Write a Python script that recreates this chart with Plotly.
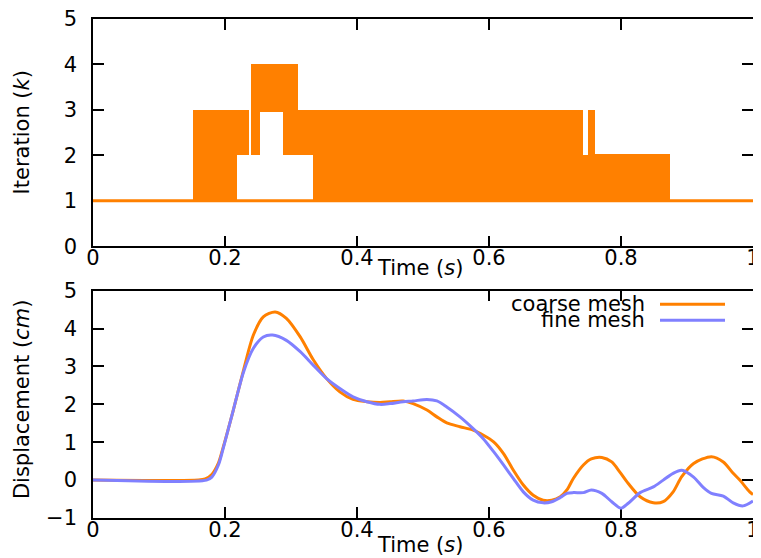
import plotly.graph_objects as go
from plotly.subplots import make_subplots

# ---------------- Top panel: iteration count bands ----------------
# Each band: time interval [start, end] over which k oscillates between low and high
band_t_start = [0.1515, 0.218, 0.239, 0.253, 0.288, 0.311, 0.333, 0.742, 0.750, 0.761]
band_t_end   = [0.218, 0.236, 0.253, 0.288, 0.311, 0.333, 0.742, 0.750, 0.761, 0.874]
band_low     = [1, 2, 2, 2.95, 2, 2, 1, 1, 1, 1]
band_high    = [3, 3, 4, 4, 4, 3, 3, 2, 3, 2.03]
baseline_t = [0.0, 1.0]
baseline_k = [1, 1]

# ---------------- Bottom panel: displacement ----------------
time_coarse = [0, 0.16, 0.17, 0.18, 0.19, 0.197, 0.2126, 0.228, 0.243, 0.258, 0.276, 0.293,
               0.314, 0.334, 0.354, 0.374, 0.394, 0.415, 0.435, 0.45, 0.47, 0.485, 0.506,
               0.521, 0.536, 0.556, 0.576, 0.591, 0.607, 0.622, 0.637, 0.652, 0.667, 0.682,
               0.695, 0.708, 0.718, 0.728, 0.743, 0.755, 0.771, 0.786, 0.798, 0.811, 0.829,
               0.849, 0.864, 0.879, 0.892, 0.91, 0.937, 0.955, 0.97, 0.98, 0.995, 1.0]
disp_coarse = [0, 0, 0.03, 0.15, 0.45, 0.85, 1.85, 2.9, 3.83, 4.31, 4.44, 4.27,
               3.78, 3.17, 2.68, 2.33, 2.13, 2.07, 2.05, 2.07, 2.09, 2.02, 1.85,
               1.67, 1.51, 1.41, 1.32, 1.19, 1.01, 0.70, 0.26, -0.13, -0.40, -0.53,
               -0.53, -0.44, -0.26, 0.05, 0.40, 0.56, 0.60, 0.48, 0.22, -0.09, -0.44,
               -0.60, -0.57, -0.31, 0.09, 0.44, 0.62, 0.48, 0.18, 0.0, -0.31, -0.38]

time_fine = [0, 0.172, 0.18, 0.19, 0.197, 0.2126, 0.228, 0.243, 0.258, 0.272, 0.293, 0.314,
             0.334, 0.354, 0.374, 0.394, 0.415, 0.435, 0.45, 0.47, 0.485, 0.506, 0.521,
             0.536, 0.556, 0.576, 0.591, 0.607, 0.622, 0.637, 0.652, 0.667, 0.682, 0.695,
             0.708, 0.718, 0.728, 0.743, 0.755, 0.771, 0.786, 0.80, 0.811, 0.829, 0.849,
             0.864, 0.879, 0.892, 0.91, 0.925, 0.937, 0.955, 0.97, 0.985, 1.0]
disp_fine = [0, 0, 0.08, 0.4, 0.82, 1.85, 2.85, 3.48, 3.78, 3.83, 3.69, 3.39,
             3.03, 2.68, 2.42, 2.2, 2.07, 2.0, 2.02, 2.07, 2.09, 2.13, 2.09,
             1.93, 1.67, 1.36, 1.1, 0.75, 0.40, 0.04, -0.31, -0.53, -0.60, -0.57,
             -0.46, -0.35, -0.33, -0.33, -0.26, -0.35, -0.57, -0.74, -0.61, -0.33, -0.18,
             0.0, 0.18, 0.26, 0.08, -0.2, -0.35, -0.42, -0.6, -0.68, -0.55]

series_names = ["coarse mesh", "fine mesh"]
ORANGE = "#ff8000"
BLUE = "#8080ff"
FONT = "DejaVu Sans"
FS = 21

OFF = 8  # page body margin
W, H = 761 - OFF, 558 - OFF
# desired page-pixel positions of the plot frame
PX_L, PX_R, PX_T1, PX_B1, PX_T2, PX_B2 = 93, 753, 18.5, 246, 290.5, 518
ML, MR = PX_L - OFF, W - (PX_R - OFF)
MT, MB = PX_T1 - OFF, H - (PX_B2 - OFF)
PW, PH = W - ML - MR, H - MT - MB

def py_paper(py):
    return (H - MB - (py - OFF)) / PH

def px_paper(px):
    return (px - OFF - ML) / PW

fig = make_subplots(rows=2, cols=1, vertical_spacing=0.05)

fig.add_trace(go.Scatter(x=baseline_t, y=baseline_k, mode="lines",
                         line=dict(color=ORANGE, width=3), showlegend=False), row=1, col=1)
centers = [(a + b) / 2 for a, b in zip(band_t_start, band_t_end)]
widths = [b - a for a, b in zip(band_t_start, band_t_end)]
heights = [h - l for l, h in zip(band_low, band_high)]
fig.add_trace(go.Bar(x=centers, y=heights, base=band_low, width=widths,
                     marker=dict(color=ORANGE, line=dict(width=0)), showlegend=False),
              row=1, col=1)

fig.add_trace(go.Scatter(x=time_coarse, y=disp_coarse, mode="lines", name=series_names[0],
                         line=dict(color=ORANGE, width=3, shape="spline", smoothing=0.8),
                         showlegend=False), row=2, col=1)
fig.add_trace(go.Scatter(x=time_fine, y=disp_fine, mode="lines", name=series_names[1],
                         line=dict(color=BLUE, width=3, shape="spline", smoothing=0.8),
                         showlegend=False), row=2, col=1)

axis_common = dict(showline=True, linecolor="black", linewidth=1.5, mirror="ticks",
                   ticks="inside", ticklen=11, tickwidth=1.5, tickcolor="black",
                   showgrid=False, zeroline=False, automargin=False,
                   ticklabeloverflow="allow", layer="below traces",
                   tickfont=dict(family=FONT, size=FS, color="black"))

xt = [0, 0.2, 0.4, 0.6, 0.8, 1]
xl = ["0", "0.2", "0.4", "0.6", "0.8", "1"]
fig.update_xaxes(range=[0, 1], tickvals=xt, ticktext=xl, ticklabelstandoff=-8, **axis_common)
fig.update_yaxes(ticklabelstandoff=10, **axis_common)
fig.update_yaxes(range=[0, 5], tickvals=[0, 1, 2, 3, 4, 5], row=1, col=1)
fig.update_yaxes(range=[-1, 5], tickvals=[-1, 0, 1, 2, 3, 4, 5], row=2, col=1)

fig.update_layout(
    width=W, height=H, template="none",
    paper_bgcolor="white", plot_bgcolor="white",
    margin=dict(l=ML, r=MR, t=MT, b=MB, autoexpand=False),
    bargap=0, barmode="overlay",
    font=dict(family=FONT, size=FS, color="black"),
)
fig.update_layout(yaxis_domain=[py_paper(PX_B1), 1.0],
                  yaxis2_domain=[0.0, py_paper(PX_T2)])

texts = [
    ("Time (<i>s</i>)", 420, 268, 0),
    ("Time (<i>s</i>)", 420, 545, 0),
    ("Iteration (<i>k</i>)", 22, 132, -90),
    ("Displacement (<i>cm</i>)", 22, 400, -90),
]
for t, px, py, ang in texts:
    fig.add_annotation(text=t, xref="paper", yref="paper", x=px_paper(px), y=py_paper(py),
                       xanchor="center", yanchor="middle", showarrow=False, textangle=ang,
                       font=dict(family=FONT, size=FS, color="black"))

# manual legend (gnuplot style: text right-aligned, sample line on the right)
leg_rows = [(series_names[0], ORANGE, 304), (series_names[1], BLUE, 320)]
for name, col, py in leg_rows:
    fig.add_annotation(text=name, xref="paper", yref="paper", x=px_paper(647), y=py_paper(py),
                       xanchor="right", yanchor="middle", showarrow=False,
                       font=dict(family=FONT, size=FS, color="black"))
    fig.add_shape(type="line", xref="paper", yref="paper",
                  x0=px_paper(660), x1=px_paper(725),
                  y0=py_paper(py), y1=py_paper(py),
                  line=dict(color=col, width=3))

fig.write_html("out.html")
